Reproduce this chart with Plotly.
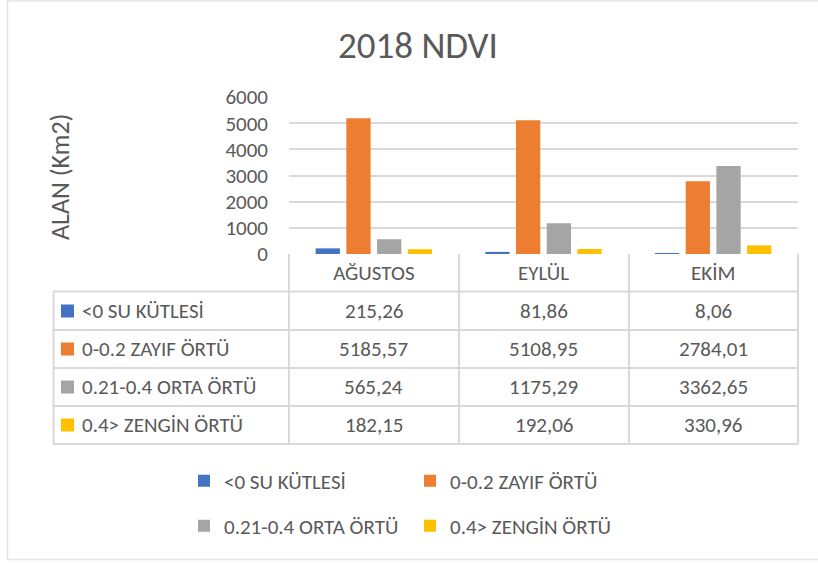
import plotly.graph_objects as go

# ---- data ----
months = ["AĞUSTOS", "EYLÜL", "EKİM"]
series_names = ["<0 SU KÜTLESİ", "0-0.2 ZAYIF ÖRTÜ", "0.21-0.4 ORTA ÖRTÜ", "0.4> ZENGİN ÖRTÜ"]
su_kutlesi = [215.26, 81.86, 8.06]
zayif_ortu = [5185.57, 5108.95, 2784.01]
orta_ortu = [565.24, 1175.29, 3362.65]
zengin_ortu = [182.15, 192.06, 330.96]
y_tick_values = [0, 1000, 2000, 3000, 4000, 5000, 6000]
chart_title = "2018 NDVI"
y_axis_title = "ALAN (Km2)"

series_values = [su_kutlesi, zayif_ortu, orta_ortu, zengin_ortu]
colors = ["#4472C4", "#ED7D31", "#A5A5A5", "#FFC000"]

# ---- layout geometry ----
W, H = 818, 563
PL, PR, PT, PB = 289, 798, 97, 254
L, T = PL, PT
R = W - PR
B = H - PB
PW = PR - PL
PH = PB - PT
FONT = "Carlito, Calibri, Lato, sans-serif"
TXT = "#595959"
GRID = "#d9d9d9"


def px_x(p):
    return (p - PL) / PW


def px_y(p):
    return (PB - p) / PH


def fmt(v):
    return f"{v:.2f}".replace(".", ",")


fig = go.Figure()
legend_ids = ["legend", "legend", "legend2", "legend2"]
for name, vals, col, lg in zip(series_names, series_values, colors, legend_ids):
    fig.add_trace(go.Bar(x=months, y=vals, name=name, marker_color=col,
                         marker_line_width=0, legend=lg))

shapes = []
annotations = []

# outer chart border (right side lies beyond the visible area)
shapes.append(dict(type="rect", xref="paper", yref="paper",
                   x0=px_x(7.5), x1=px_x(840), y0=px_y(559.5), y1=px_y(1),
                   line=dict(color="#e6e6e6", width=1.5), layer="below"))

row_lines = [291.5, 330, 368, 406, 444]
for yy in row_lines:
    shapes.append(dict(type="line", xref="paper", yref="paper",
                       x0=px_x(53), x1=1, y0=px_y(yy), y1=px_y(yy),
                       line=dict(color=GRID, width=2)))
for xx in [PL, 459, 629, PR]:
    shapes.append(dict(type="line", xref="paper", yref="paper",
                       x0=px_x(xx), x1=px_x(xx), y0=px_y(254), y1=px_y(444),
                       line=dict(color=GRID, width=2)))
shapes.append(dict(type="line", xref="paper", yref="paper",
                   x0=px_x(53.5), x1=px_x(53.5), y0=px_y(291.5), y1=px_y(444),
                   line=dict(color=GRID, width=2)))

row_centers = [311, 349, 387, 425]
for i, (name, vals, col) in enumerate(zip(series_names, series_values, colors)):
    yc = row_centers[i]
    shapes.append(dict(type="rect", xref="paper", yref="paper",
                       x0=px_x(61), x1=px_x(74), y0=px_y(yc - 6.5), y1=px_y(yc + 6.5),
                       fillcolor=col, line=dict(width=0)))
    annotations.append(dict(text=name, xref="paper", yref="paper",
                            x=px_x(80), y=px_y(yc), xanchor="left", yanchor="middle",
                            showarrow=False, font=dict(family=FONT, size=21, color=TXT)))
    for m, v in zip(months, vals):
        annotations.append(dict(text=fmt(v), xref="x", yref="paper",
                                x=m, y=px_y(yc), xanchor="center", yanchor="middle",
                                showarrow=False, font=dict(family=FONT, size=21, color=TXT)))

annotations.append(dict(text=chart_title, xref="paper", yref="paper",
                        x=px_x(418), y=px_y(45), xanchor="center", yanchor="middle",
                        showarrow=False, font=dict(family=FONT, size=37, color=TXT)))
annotations.append(dict(text=y_axis_title, xref="paper", yref="paper",
                        x=px_x(60), y=px_y(177), xanchor="center", yanchor="middle",
                        textangle=-90, showarrow=False,
                        font=dict(family=FONT, size=26, color=TXT)))

fig.update_layout(
    width=W, height=H,
    margin=dict(l=L, r=R, t=T, b=B),
    paper_bgcolor="white", plot_bgcolor="white",
    barmode="group", bargap=0.276, bargroupgap=0.21,
    font=dict(family=FONT, size=21, color=TXT),
    shapes=shapes, annotations=annotations,
    legend=dict(orientation="h", x=px_x(184), y=px_y(481), xanchor="left", yanchor="middle",
                entrywidth=181, font=dict(family=FONT, size=21, color=TXT),
                bgcolor="rgba(0,0,0,0)", tracegroupgap=0),
    legend2=dict(orientation="h", x=px_x(184), y=px_y(526), xanchor="left", yanchor="middle",
                 entrywidth=181, font=dict(family=FONT, size=21, color=TXT),
                 bgcolor="rgba(0,0,0,0)", tracegroupgap=0),
    xaxis=dict(showgrid=False, showline=False, zeroline=False, ticks="",
               tickfont=dict(family=FONT, size=21, color=TXT), ticklabelstandoff=4),
    yaxis=dict(range=[0, 6000], tickvals=y_tick_values, showgrid=True, gridcolor=GRID,
               gridwidth=2, zeroline=False, showline=False, ticks="",
               tickfont=dict(family=FONT, size=21, color=TXT), ticklabelstandoff=20),
)

fig.write_html("out.html", config={"displayModeBar": False},
               post_script="document.body.style.margin='0';document.body.style.overflow='hidden';")
